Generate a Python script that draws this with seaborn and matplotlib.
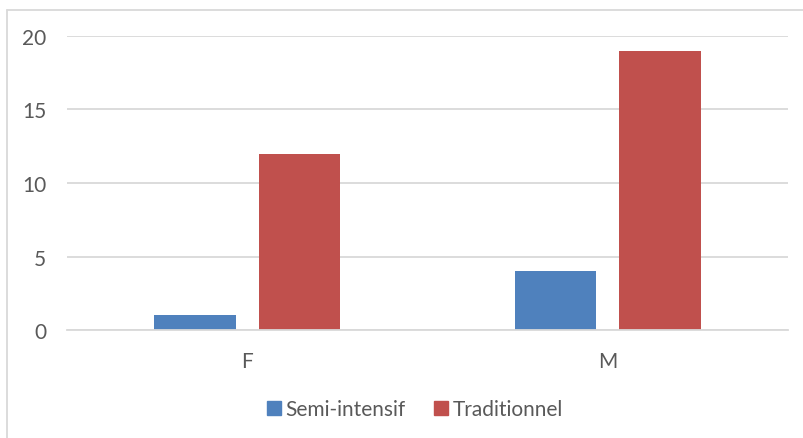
import pandas as pd
import matplotlib.pyplot as plt
import seaborn as sns
from matplotlib.lines import Line2D

sexes = ['F', 'M']
series = ['Semi-intensif', 'Traditionnel']
semi_intensif = [1, 4]
traditionnel = [12, 19]
colors = ['#4F81BD', '#C0504D']

df = pd.DataFrame({
    'Sexe': sexes * 2,
    'Systeme': [series[0]] * 2 + [series[1]] * 2,
    'Valeur': semi_intensif + traditionnel,
})

sns.set_style('white')
plt.rcParams['font.family'] = ['Lato', 'DejaVu Sans']
txt = '#595959'

fig = plt.figure(figsize=(8.04, 4.39), dpi=100)
ax = fig.add_axes([67 / 804, 1 - 331 / 439, 721 / 804, 294 / 439])

sns.barplot(data=df, x='Sexe', y='Valeur', hue='Systeme', palette=colors,
            width=0.58, gap=0.22, ax=ax, legend=False, saturation=1,
            linewidth=0)

ax.set_xlim(-0.5, 1.5)
ax.set_ylim(0, 20)
ax.set_yticks([0, 5, 10, 15, 20])
ax.yaxis.grid(True, color='#D9D9D9', lw=1.3)
ax.set_axisbelow(True)
for s in ['top', 'right', 'left']:
    ax.spines[s].set_visible(False)
ax.spines['bottom'].set_color('#D9D9D9')
ax.spines['bottom'].set_linewidth(1.3)
ax.tick_params(axis='both', length=0, labelsize=15, labelcolor=txt)
ax.tick_params(axis='y', pad=15)
ax.tick_params(axis='x', pad=15)
ax.set_xlabel('')
ax.set_ylabel('')

handles = [Line2D([], [], marker='s', ls='', color=c, markersize=10) for c in colors]
fig.legend(handles, series, loc='center', bbox_to_anchor=(0.515, 1 - 410 / 439),
           ncol=2, frameon=False, fontsize=15, labelcolor=txt,
           handletextpad=0.15, columnspacing=1.3, handlelength=0.8)

# chart border (Excel-style frame)
fig.add_artist(Line2D([7.5 / 804, 7.5 / 804], [0, 1 - 11 / 439], color='#D9D9D9', lw=1.3))
fig.add_artist(Line2D([7.5 / 804, 1], [1 - 11 / 439, 1 - 11 / 439], color='#D9D9D9', lw=1.3))

plt.savefig('out.png', dpi=100)
